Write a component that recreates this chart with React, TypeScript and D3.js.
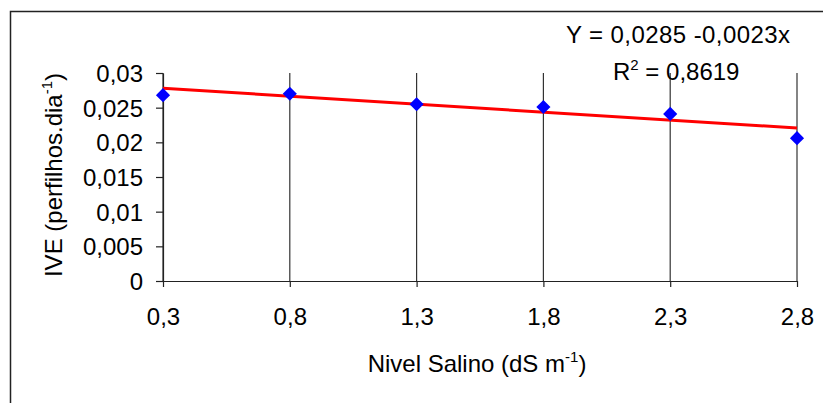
import React, { useEffect, useRef } from "react"
import * as d3 from "d3"

const niveis = [0.3, 0.8, 1.3, 1.8, 2.3, 2.8]
const ive = [0.0268, 0.027, 0.0255, 0.0251, 0.0241, 0.0206]
const yTicks = [0, 0.005, 0.01, 0.015, 0.02, 0.025, 0.03]
const intercepto = 0.0285
const inclinacao = -0.0023

const fmt = (v: number) => String(v).replace(".", ",")

function App() {
  const ref = useRef<SVGSVGElement>(null)

  useEffect(() => {
    const svg = d3.select(ref.current)
    svg.selectAll("*").remove()

    const font = "'Liberation Sans', Arial, sans-serif"
    const fs = 24

    const x = d3.scaleLinear().domain([0.3, 2.8]).range([163, 797])
    const y = d3.scaleLinear().domain([0, 0.03]).range([281, 73])

    // moldura
    svg.append("rect")
      .attr("x", 10.5).attr("y", 11.5)
      .attr("width", 830).attr("height", 420)
      .attr("fill", "none").attr("stroke", "#222").attr("stroke-width", 1.5)

    // linhas verticais
    svg.append("g")
      .selectAll("line")
      .data(niveis)
      .enter()
      .append("line")
      .attr("x1", d => x(d)).attr("x2", d => x(d))
      .attr("y1", y(0.03)).attr("y2", y(0))
      .attr("stroke", "#333").attr("stroke-width", 1.2)

    const yAxis = svg.append("g")
      .attr("transform", `translate(${x(0.3)},0)`)
      .call(d3.axisLeft(y).tickValues(yTicks).tickSize(7).tickPadding(13).tickSizeOuter(0).tickFormat(d => fmt(+d)))
    yAxis.selectAll("text").attr("font-size", fs).attr("font-family", font).attr("fill", "black").attr("dy", "0.36em")

    const xAxis = svg.append("g")
      .attr("transform", `translate(0,${y(0)})`)
      .call(d3.axisBottom(x).tickValues(niveis).tickSize(6).tickSizeOuter(0).tickFormat(d => fmt(+d)))
    xAxis.selectAll("text").attr("font-size", fs).attr("font-family", font).attr("fill", "black")
      .attr("y", 44).attr("dy", 0)

    svg.selectAll(".domain").attr("stroke", "#222").attr("stroke-width", 1.2)
    svg.selectAll(".tick line").attr("stroke", "#222").attr("stroke-width", 1.2)

    // reta de regressao
    const linha = d3.line<number>()
      .x(d => x(d))
      .y(d => y(intercepto + inclinacao * d))
    svg.append("path")
      .attr("d", linha([0.3, 2.8]))
      .attr("stroke", "red").attr("stroke-width", 3).attr("fill", "none")

    // pontos
    const sym = d3.symbol().type(d3.symbolSquare).size(100)
    svg.append("g")
      .selectAll("path")
      .data(niveis)
      .enter()
      .append("path")
      .attr("d", sym)
      .attr("transform", (d, i) => `translate(${x(d)},${y(ive[i])}) rotate(45)`)
      .attr("fill", "#0000ff")

    // equacao
    svg.append("text")
      .attr("x", 566).attr("y", 43)
      .attr("textLength", 224)
      .attr("font-size", fs).attr("font-family", font)
      .text("Y = 0,0285 -0,0023x")

    const r2 = svg.append("text")
      .attr("x", 613).attr("y", 80)
      .attr("font-size", fs).attr("font-family", font)
    r2.append("tspan").text("R")
    r2.append("tspan").attr("font-size", 15).attr("dy", -10).text("2")
    r2.append("tspan").attr("dy", 10).text(" = 0,8619")

    // titulos
    const yt = svg.append("text")
      .attr("transform", "translate(62,175) rotate(-90)")
      .attr("text-anchor", "middle")
      .attr("font-size", fs).attr("font-family", font)
    yt.append("tspan").text("IVE (perfilhos.dia")
    yt.append("tspan").attr("font-size", 15).attr("dy", -10).text("-1")
    yt.append("tspan").attr("dy", 10).text(")")

    const xt = svg.append("text")
      .attr("x", 477).attr("y", 372)
      .attr("text-anchor", "middle")
      .attr("font-size", fs).attr("font-family", font)
    xt.append("tspan").text("Nivel Salino (dS m")
    xt.append("tspan").attr("font-size", 15).attr("dy", -10).text("-1")
    xt.append("tspan").attr("dy", 10).text(")")
  }, [])

  return (
    <svg
      ref={ref}
      width={823}
      height={403}
      style={{ position: "absolute", left: 0, top: 0, background: "white" }}
    />
  )
}

export default App
